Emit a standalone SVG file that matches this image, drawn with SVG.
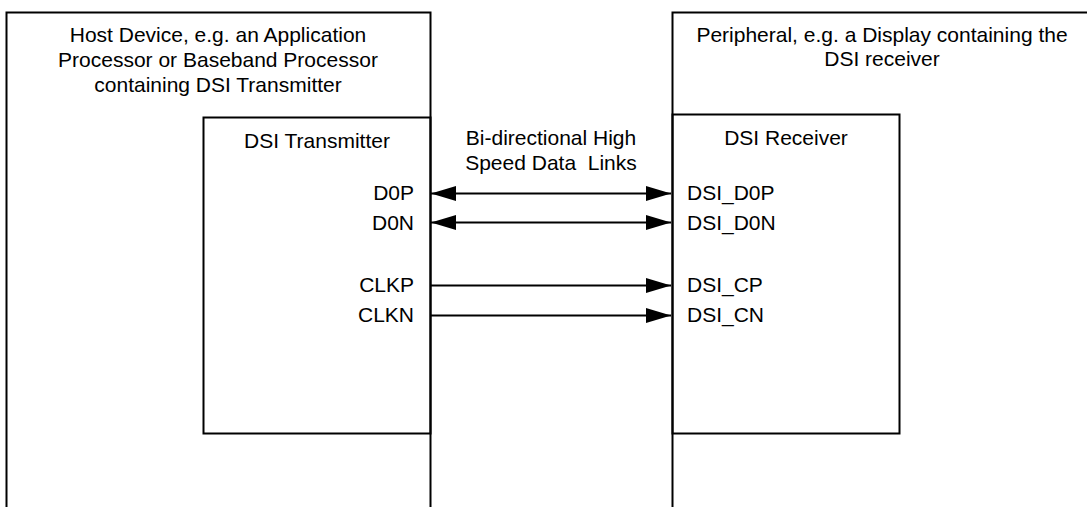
<svg xmlns="http://www.w3.org/2000/svg" width="1087" height="507" viewBox="0 0 1087 507">
<style>
.box{fill:none;stroke:#000;stroke-width:2}
.t{font-family:"Liberation Sans",Arial,sans-serif;font-size:21px;fill:#000}
.m{text-anchor:middle}
.r{text-anchor:end}
.ln{stroke:#000;stroke-width:2;fill:none}
</style>
<defs>
<marker id="arr" viewBox="0 0 25 15" refX="25" refY="7.5" markerWidth="25" markerHeight="15" markerUnits="userSpaceOnUse" orient="auto-start-reverse">
<path d="M0,0 L25,7.5 L0,15 Z" fill="#000"/>
</marker>
</defs>
<rect width="1087" height="507" fill="#fff"/>
<g id="host">
<path class="box" d="M6.5,508 V12.5 H430.5 V508"/>
<text class="t m" x="218" y="42">Host Device, e.g. an Application</text>
<text class="t m" x="218" y="67">Processor or Baseband Processor</text>
<text class="t m" x="218" y="92">containing DSI Transmitter</text>
</g>
<g id="peripheral">
<path class="box" d="M672.5,508 V12.5 H1088"/>
<text class="t m" x="882" y="42">Peripheral, e.g. a Display containing the</text>
<text class="t m" x="882" y="66">DSI receiver</text>
</g>
<g id="transmitter">
<rect class="box" x="203.5" y="117.5" width="227" height="316"/>
<text class="t m" x="317" y="148">DSI Transmitter</text>
<text class="t r" x="414" y="200">D0P</text>
<text class="t r" x="414" y="230">D0N</text>
<text class="t r" x="414" y="292">CLKP</text>
<text class="t r" x="414" y="322">CLKN</text>
</g>
<g id="receiver">
<rect class="box" x="672.5" y="114.5" width="227" height="319"/>
<text class="t m" x="786" y="145">DSI Receiver</text>
<text class="t" x="687" y="200">DSI_D0P</text>
<text class="t" x="687" y="230">DSI_D0N</text>
<text class="t" x="687" y="292">DSI_CP</text>
<text class="t" x="687" y="322">DSI_CN</text>
</g>
<g id="link-label">
<text class="t m" x="551" y="145">Bi-directional High</text>
<text class="t m" x="551" y="170" xml:space="preserve">Speed Data  Links</text>
</g>
<g id="connectors">
<line class="ln" x1="431" y1="193.5" x2="671" y2="193.5" marker-start="url(#arr)" marker-end="url(#arr)"/>
<line class="ln" x1="431" y1="222.5" x2="671" y2="222.5" marker-start="url(#arr)" marker-end="url(#arr)"/>
<line class="ln" x1="431" y1="285.5" x2="671" y2="285.5" marker-end="url(#arr)"/>
<line class="ln" x1="431" y1="315.5" x2="671" y2="315.5" marker-end="url(#arr)"/>
</g>
</svg>
